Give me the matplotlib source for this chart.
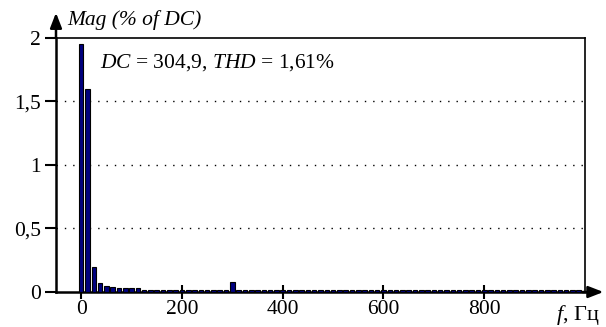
import numpy as np
import matplotlib.pyplot as plt

plt.rcParams['font.family'] = ['Liberation Serif', 'DejaVu Serif']
plt.rcParams['mathtext.fontset'] = 'custom'
plt.rcParams['mathtext.rm'] = 'Liberation Serif'
plt.rcParams['mathtext.it'] = 'Liberation Serif:italic'

# spectrum bins, 12.5 Hz step
step = 12.5
mag = [1.95, 1.60, 0.20, 0.07, 0.045, 0.04, 0.03, 0.03, 0.03, 0.03,
       0.015, 0.012, 0.012, 0.012, 0.012, 0.012, 0.012, 0.012, 0.012, 0.012,
       0.012, 0.012, 0.012, 0.012, 0.075, 0.012, 0.012, 0.012, 0.012, 0.012,
       0.012, 0.012, 0.012, 0.012, 0.012, 0.012, 0.012, 0.012, 0.012, 0.012,
       0.012, 0.012, 0.012, 0.012, 0.012, 0.012, 0.012, 0.012, 0.012, 0.012,
       0.012, 0.012, 0.012, 0.012, 0.012, 0.012, 0.012, 0.012, 0.012, 0.012,
       0.012, 0.012, 0.012, 0.012, 0.012, 0.012, 0.012, 0.012, 0.012, 0.012,
       0.012, 0.012, 0.012, 0.012, 0.012, 0.012, 0.012, 0.012, 0.012, 0.012]
freq = np.arange(len(mag)) * step

xticks = [0, 200, 400, 600, 800]
yticks = [0, 0.5, 1, 1.5, 2]
yticklabels = ['0', '0,5', '1', '1,5', '2']

fig = plt.figure(figsize=(6.06, 3.27), dpi=100)
ax = fig.add_axes([0.0924, 0.107, 0.873, 0.777])

ax.bar(freq, mag, width=9, color='#000080', edgecolor='black', linewidth=0.8, zorder=3)

ax.set_xlim(-50, 1000)
ax.set_ylim(0, 2)
ax.set_xticks(xticks)
ax.set_yticks(yticks)
ax.set_yticklabels(yticklabels)
ax.tick_params(axis='x', direction='inout', length=10, width=1.5, labelsize=15.5, pad=1)
ax.tick_params(axis='y', direction='out', length=8, width=1.5, labelsize=15.5, pad=3)

for y in [0.5, 1, 1.5]:
    ax.axhline(y, color='black', lw=1, ls=(0, (1, 5)), zorder=1)

ax.spines['left'].set_linewidth(1.8)
ax.spines['bottom'].set_linewidth(1.8)
ax.spines['top'].set_linewidth(1.2)
ax.spines['right'].set_linewidth(1.2)

# axis arrows
ax.annotate('', xy=(1.04, 0), xytext=(0.99, 0), xycoords='axes fraction',
            arrowprops=dict(arrowstyle='-|>,head_length=0.9,head_width=0.35', color='black', lw=1.8))
ax.annotate('', xy=(0, 1.11), xytext=(0, 0.99), xycoords='axes fraction',
            arrowprops=dict(arrowstyle='-|>,head_length=0.9,head_width=0.35', color='black', lw=1.8))

ax.text(0.021, 1.03, 'Mag (% of DC)', transform=ax.transAxes, fontsize=15.5,
        style='italic', va='bottom', ha='left')
ax.text(0.083, 0.905, r'$DC$ = 304,9, $THD$ = 1,61%', transform=ax.transAxes,
        fontsize=15.5, va='center', ha='left')
ax.text(1.028, -0.09, r'$f$, Гц', transform=ax.transAxes, fontsize=16,
        va='center', ha='right')

fig.savefig('out.png', dpi=100)
